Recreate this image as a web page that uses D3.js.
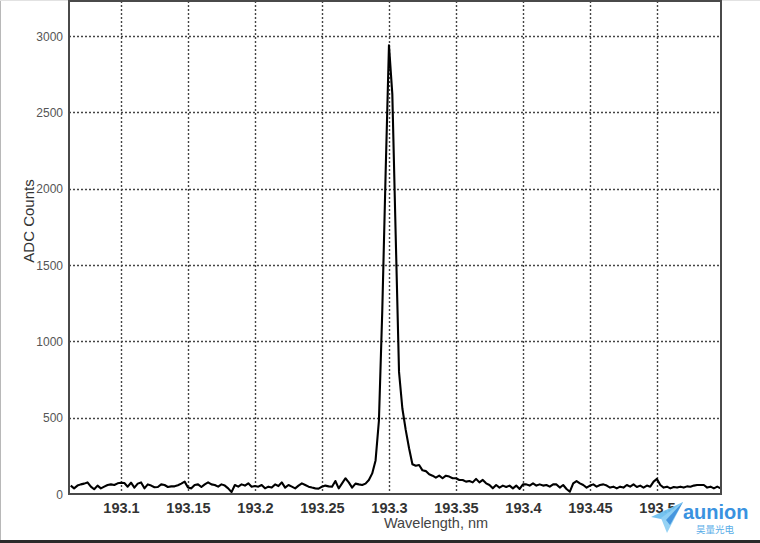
<!DOCTYPE html>
<html>
<head>
<meta charset="utf-8">
<script src="https://cdn.jsdelivr.net/npm/d3@7"></script>
<style>
  html, body { margin: 0; padding: 0; background: #fff; }
  svg { display: block; }
</style>
</head>
<body>
<svg id="chart" width="760" height="543"></svg>
<script>
// ---------- DATA ----------
const wavelengths = [
  193.0625,193.065,193.0675,193.07,193.0725,193.075,193.0775,193.08,
  193.0825,193.085,193.0875,193.09,193.0925,193.095,193.0975,193.1,
  193.1025,193.105,193.1075,193.11,193.1125,193.115,193.1175,193.12,
  193.1225,193.125,193.1275,193.13,193.1325,193.135,193.1375,193.14,
  193.1425,193.145,193.1475,193.15,193.1525,193.155,193.1575,193.16,
  193.1625,193.165,193.1675,193.17,193.1725,193.175,193.1775,193.18,
  193.1825,193.185,193.1875,193.19,193.1925,193.195,193.1975,193.2,
  193.2025,193.205,193.2075,193.21,193.2125,193.215,193.2175,193.22,
  193.2225,193.225,193.2275,193.23,193.2325,193.235,193.2375,193.24,
  193.2425,193.245,193.2475,193.25,193.2525,193.255,193.2575,193.26,
  193.2625,193.265,193.2675,193.27,193.2725,193.275,193.2775,193.28,
  193.2825,193.285,193.2875,193.29,193.2925,193.295,193.2975,193.3,
  193.3025,193.305,193.3075,193.31,193.3125,193.315,193.3175,193.32,
  193.3225,193.325,193.3275,193.33,193.3325,193.335,193.3375,193.34,
  193.3425,193.345,193.3475,193.35,193.3525,193.355,193.3575,193.36,
  193.3625,193.365,193.3675,193.37,193.3725,193.375,193.3775,193.38,
  193.3825,193.385,193.3875,193.39,193.3925,193.395,193.3975,193.4,
  193.4025,193.405,193.4075,193.41,193.4125,193.415,193.4175,193.42,
  193.4225,193.425,193.4275,193.43,193.4325,193.435,193.4375,193.44,
  193.4425,193.445,193.4475,193.45,193.4525,193.455,193.4575,193.46,
  193.4625,193.465,193.4675,193.47,193.4725,193.475,193.4775,193.48,
  193.4825,193.485,193.4875,193.49,193.4925,193.495,193.4975,193.5,
  193.5025,193.505,193.5075,193.51,193.5125,193.515,193.5175,193.52,
  193.5225,193.525,193.5275,193.53,193.5325,193.535,193.5375,193.54,
  193.5425,193.545,193.5475
];
const adcCounts = [
  55,37,55,63,68,76,48,31,55,37,48,59,63,59,70,74,
  72,48,74,42,68,76,37,63,55,44,46,63,59,46,50,50,
  57,68,81,42,37,59,63,46,63,76,63,59,48,63,55,37,
  12,59,48,63,55,70,48,52,48,59,37,48,42,63,52,76,
  42,59,48,37,55,70,59,48,42,37,35,48,55,50,48,85,
  37,70,103,76,42,68,63,59,68,92,135,220,480,1200,2100,2940,
  2620,1700,800,560,420,300,195,185,190,155,150,129,120,107,120,103,
  120,114,103,103,92,92,81,85,76,99,76,92,70,59,37,59,
  42,55,46,55,37,55,33,63,63,55,70,55,63,55,59,48,
  63,63,42,59,33,15,70,85,70,59,42,55,63,48,59,63,
  55,42,48,37,48,42,59,48,63,46,55,42,55,48,81,99,
  59,42,48,37,46,42,48,42,50,48,55,59,59,59,42,48,
  37,48,37
];
const xTicks = [193.1,193.15,193.2,193.25,193.3,193.35,193.4,193.45,193.5];
const xTickLabels = ["193.1","193.15","193.2","193.25","193.3","193.35","193.4","193.45","193.5"];
const yTicks = [0,500,1000,1500,2000,2500,3000];
const yTickLabels = ["0","500","1000","1500","2000","2500","3000"];
const xDomain = [193.0612, 193.5478];
const yDomain = [0, 3230];
const xTitle = "Wavelength, nm";
const yTitle = "ADC Counts";
const logoText = "aunion";
const logoSub = "昊量光电";

// ---------- LAYOUT ----------
const svg = d3.select("#chart");
const W = 760, H = 543;
const plot = { left: 69, right: 721, top: 1, bottom: 494 };
const font = "'Liberation Sans', Arial, Helvetica, sans-serif";

const x = d3.scaleLinear().domain(xDomain).range([plot.left, plot.right]);
const y = d3.scaleLinear().domain(yDomain).range([plot.bottom, plot.top]);

// background frame bits
svg.append("rect").attr("x",0).attr("y",0).attr("width",W).attr("height",H).attr("fill","#fff");
svg.append("line").attr("x1",0.5).attr("x2",0.5).attr("y1",0).attr("y2",H).attr("stroke","#b8b8b8").attr("stroke-width",1);
svg.append("line").attr("x1",0).attr("x2",W).attr("y1",0.5).attr("y2",0.5).attr("stroke","#e2e2e2").attr("stroke-width",1);
svg.append("rect").attr("x",0).attr("y",540).attr("width",W).attr("height",3).attr("fill","#2a2a2a");

// grid
const grid = svg.append("g");
grid.selectAll("line.vx").data(xTicks).join("line")
  .attr("x1", d => Math.round(x(d)) + 0.5).attr("x2", d => Math.round(x(d)) + 0.5)
  .attr("y1", plot.top).attr("y2", plot.bottom)
  .attr("stroke", "#444").attr("stroke-width", 1.4).attr("stroke-dasharray", "2,2");
grid.selectAll("line.hy").data(yTicks.filter(d => d > 0)).join("line")
  .attr("x1", plot.left).attr("x2", plot.right)
  .attr("y1", d => Math.round(y(d)) + 0.5).attr("y2", d => Math.round(y(d)) + 0.5)
  .attr("stroke", "#444").attr("stroke-width", 1.4).attr("stroke-dasharray", "2,2");

// axes (labels only; ticks are hidden)
const xAxis = d3.axisBottom(x).tickValues(xTicks).tickSize(0).tickPadding(0)
  .tickFormat((d, i) => xTickLabels[i]);
const gx = svg.append("g").attr("transform", `translate(0,${plot.bottom})`).call(xAxis);
gx.select(".domain").remove();
gx.selectAll("text").attr("dy", null).attr("y", 19)
  .attr("font-family", font).attr("font-size", 14.5).attr("font-weight", "bold").attr("fill", "#333");

const yAxis = d3.axisLeft(y).tickValues(yTicks).tickSize(0).tickPadding(0)
  .tickFormat((d, i) => yTickLabels[i]);
const gy = svg.append("g").attr("transform", `translate(${plot.left},0)`).call(yAxis);
gy.select(".domain").remove();
gy.selectAll("text").attr("x", -6).attr("dy", "0.35em")
  .attr("font-family", font).attr("font-size", 12).attr("fill", "#555");

// line
const line = d3.line().x((d, i) => x(wavelengths[i])).y(d => y(d));
svg.append("path").datum(adcCounts)
  .attr("d", line).attr("fill", "none").attr("stroke", "#000")
  .attr("stroke-width", 2.1).attr("stroke-linejoin", "round");

// plot border
svg.append("rect").attr("x", plot.left).attr("y", plot.top)
  .attr("width", plot.right - plot.left).attr("height", plot.bottom - plot.top)
  .attr("fill", "none").attr("stroke", "#4a4a4a").attr("stroke-width", 2);

// titles
svg.append("text").attr("x", 436).attr("y", 528).attr("text-anchor", "middle")
  .attr("font-family", font).attr("font-size", 14.5).attr("fill", "#444").text(xTitle);
svg.append("text").attr("transform", "translate(34,221) rotate(-90)").attr("text-anchor", "middle")
  .attr("font-family", font).attr("font-size", 15).attr("fill", "#333").text(yTitle);

// watermark logo
const logo = svg.append("g");
logo.append("path").attr("d", "M651,517 L683,502 L666,520 Z").attr("fill", "#6ec0ef").attr("opacity", 0.95);
logo.append("path").attr("d", "M661,518 L683,502 L667,533 Z").attr("fill", "#8fd0f3").attr("opacity", 0.95);
logo.append("path").attr("d", "M666,520 L683,502 L670,525 Z").attr("fill", "#3d8fdc").attr("opacity", 0.9);
logo.append("text").attr("x", 683).attr("y", 519)
  .attr("font-family", font).attr("font-size", 20).attr("font-weight", "bold")
  .attr("fill", "#3a92e0").text(logoText);
logo.append("text").attr("x", 715).attr("y", 533).attr("text-anchor", "middle")
  .attr("font-family", "'Noto Sans CJK SC', sans-serif").attr("font-size", 9.5)
  .attr("fill", "#5aaee8").text(logoSub);
</script>
</body>
</html>
